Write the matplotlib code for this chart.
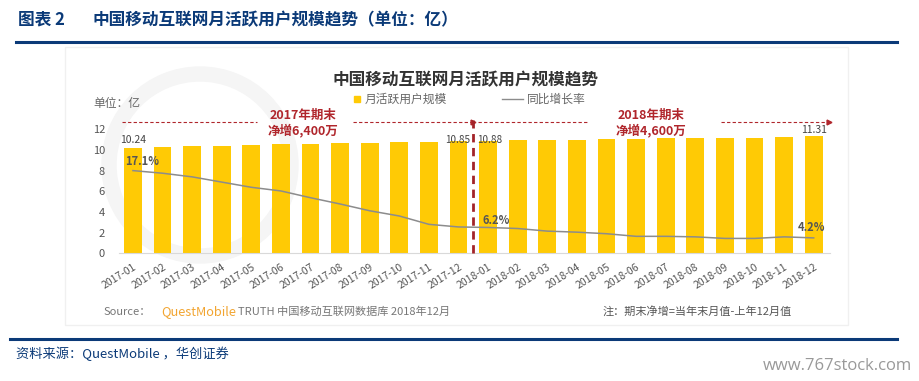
import numpy as np
import matplotlib
matplotlib.use("Agg")
import matplotlib.pyplot as plt
from matplotlib.patches import Wedge, Rectangle

plt.rcParams['font.family'] = ['Noto Sans CJK SC', 'DejaVu Sans']

#-------------------------------------------------------------
# Data
#-------------------------------------------------------------
months = ['2017-01', '2017-02', '2017-03', '2017-04', '2017-05', '2017-06',
          '2017-07', '2017-08', '2017-09', '2017-10', '2017-11', '2017-12',
          '2018-01', '2018-02', '2018-03', '2018-04', '2018-05', '2018-06',
          '2018-07', '2018-08', '2018-09', '2018-10', '2018-11', '2018-12']
mau = [10.24, 10.30, 10.36, 10.42, 10.50, 10.55, 10.60, 10.63, 10.68, 10.75, 10.78, 10.85,
       10.88, 10.92, 10.95, 11.00, 11.04, 11.08, 11.12, 11.13, 11.15, 11.18, 11.22, 11.31]
yoy = [17.1, 16.6, 15.9, 14.9, 13.9, 13.2, 11.9, 10.7, 9.4, 8.4, 6.8, 6.3,
       6.2, 6.0, 5.5, 5.3, 5.0, 4.5, 4.5, 4.4, 4.1, 4.1, 4.4, 4.2]

W, H = 919, 381
fig = plt.figure(figsize=(W / 100, H / 100), dpi=100)

def fx(px):
    return px / W

def fy(py):
    return 1 - py / H

navy = '#0b3a78'
red = '#b0262c'
grey = '#666666'

#-------------------------------------------------------------
# Header / footer
#-------------------------------------------------------------
fig.text(fx(18), fy(20), '图表 2', fontsize=12, fontweight='bold', color=navy, va='center')
fig.text(fx(92), fy(20), '中国移动互联网月活跃用户规模趋势（单位：亿）', fontsize=12,
         fontweight='bold', color=navy, va='center')
fig.add_artist(plt.Line2D([fx(16), fx(897)], [fy(42), fy(42)], color=navy, lw=2.2))
fig.add_artist(plt.Line2D([fx(10), fx(897)], [fy(339), fy(339)], color=navy, lw=2.2))
fig.text(fx(16), fy(354), '资料来源：QuestMobile ，华创证券', fontsize=9.5, style='italic',
         color=navy, va='center')
fig.text(fx(912), fy(366), 'www.767stock.com', fontsize=12, color='#999999',
         ha='right', va='center', family=['Open Sans', 'DejaVu Sans'])

# faint panel + watermark ring
fig.add_artist(Rectangle((fx(65), fy(325)), fx(848) - fx(65), fy(47) - fy(325),
                         transform=fig.transFigure, facecolor='none',
                         edgecolor='#f0f0f0', lw=1, zorder=-2))
fig.add_artist(Wedge((2.0, 2.16), 0.98, 0, 360, width=0.14, transform=fig.dpi_scale_trans,
                     color='#f5f5f5', zorder=-2))

#-------------------------------------------------------------
# Chart
#-------------------------------------------------------------
x = np.arange(len(months))
ax = fig.add_axes([fx(119), fy(253.3), fx(830) - fx(119), 13 * 10.33 / H])
ax.patch.set_alpha(0)
ax.bar(x, mau, width=0.6, color='#FFCA05', zorder=2)
ax.set_xlim(-0.47, 23.55)
ax.set_ylim(0, 13)
ax.set_yticks([0, 2, 4, 6, 8, 10, 12])
ax.set_xticks(x)
ax.set_xticklabels(months, rotation=32, ha='right', rotation_mode='anchor')
ax.tick_params(axis='both', length=0, labelsize=7.5, labelcolor='#555555')
ax.tick_params(axis='y', pad=10, labelsize=8)
ax.tick_params(axis='x', pad=6)
for s in ['top', 'right', 'left']:
    ax.spines[s].set_visible(False)
ax.spines['bottom'].set_color('#d9d9d9')

# growth line on twin axis
ax2 = ax.twinx()
ax2.plot(x, yoy, color='#8c8c8c', lw=1.1, zorder=3)
ax2.set_ylim(0.63 / 0.505, 13.63 / 0.505)
ax2.axis('off')

# value labels
ax.text(0, 11.0, '10.24', fontsize=7.5, color='#444444', ha='center', va='center')
ax.text(11.4, 11.0, '10.85', fontsize=7.2, color='#444444', ha='right', va='center')
ax.text(11.62, 11.0, '10.88', fontsize=7.2, color='#444444', ha='left', va='center')
ax.text(23, 11.95, '11.31', fontsize=7.5, color='#444444', ha='center', va='center')
ax.text(0.3, 8.87, '17.1%', fontsize=8, fontweight='bold', color='#555555', ha='center', va='center')
ax.text(12.28, 3.22, '6.2%', fontsize=8, fontweight='bold', color='#555555', ha='center', va='center')
ax.text(22.94, 2.45, '4.2%', fontsize=8, fontweight='bold', color='#555555', ha='center', va='center')

# period annotations
ax.plot([11.5, 11.5], [0, 12.9], color='#a32429', lw=2, ls=(0, (3, 2)), clip_on=False, zorder=4)
yd = 12.74
for a, b in [(-0.37, 4.19), (7.44, 11.45), (11.67, 15.36), (19.86, 23.45)]:
    ax.plot([a, b], [yd, yd], color=red, lw=0.8, ls=(0, (3, 2)), clip_on=False)
for b in [11.5, 23.5]:
    ax.plot([b], [yd], marker='>', color=red, ms=3.5, clip_on=False)
ax.text(5.75, 13.37, '2017年期末', fontsize=9, fontweight='bold', color=red, ha='center', va='center')
ax.text(5.75, 11.9, '净增6,400万', fontsize=9, fontweight='bold', color=red, ha='center', va='center')
ax.text(17.49, 13.37, '2018年期末', fontsize=9, fontweight='bold', color=red, ha='center', va='center')
ax.text(17.49, 11.9, '净增4,600万', fontsize=9, fontweight='bold', color=red, ha='center', va='center')

# chart title, unit and legend
fig.text(fx(466), fy(80), '中国移动互联网月活跃用户规模趋势', fontsize=12, color='#333333',
         fontweight='bold', ha='center', va='center')
fig.text(fx(93), fy(103), '单位：亿', fontsize=8.5, color=grey, va='center')
fig.add_artist(Rectangle((fx(354), fy(102)), 6 / W, 6 / H, transform=fig.transFigure,
                         color='#FFCA05'))
fig.text(fx(365), fy(99), '月活跃用户规模', fontsize=8.5, color=grey, va='center')
fig.add_artist(plt.Line2D([fx(502), fx(523)], [fy(99), fy(99)], color='#8c8c8c', lw=1))
fig.text(fx(527), fy(99), '同比增长率', fontsize=8.5, color=grey, va='center')

# source and note
fig.text(fx(103), fy(312), 'Source：', fontsize=8, color='#777777', va='center')
fig.text(fx(161), fy(312), 'QuestMobile', fontsize=9.2, color='#F2A531', va='center')
fig.text(fx(238), fy(312), 'TRUTH 中国移动互联网数据库 2018年12月', fontsize=8,
         color='#777777', va='center')
fig.text(fx(603), fy(311), '注：期末净增=当年末月值-上年12月值', fontsize=8,
         color='#555555', va='center')

plt.savefig('out.png', dpi=100)
